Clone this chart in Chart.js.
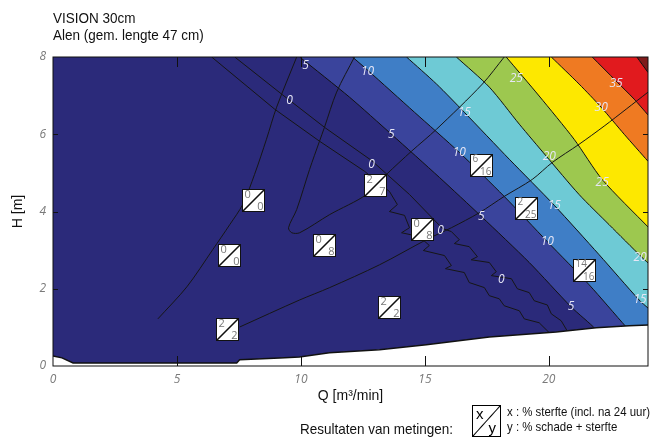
<!DOCTYPE html>
<html>
<head>
  <title>VISION 30cm - Alen</title>
  <style>
    body { margin: 0; background: #fff; }
    #wrap { position: relative; width: 653px; height: 442px; font-family: "Liberation Sans", Arial, sans-serif; }
    #canvas { position: absolute; left: 0; top: 0; }
    .txt { position: absolute; white-space: nowrap; color: #111; transform-origin: 0 0; }
    #title { left: 53px; top: 9px; font-size: 15px; line-height: 17px; transform: scaleX(0.9); }
    #res { left: 300px; top: 420px; font-size: 15px; transform: scaleX(0.9); }
    #key { position: absolute; left: 472px; top: 405px; width: 27px; height: 30px; border: 1px solid #000;
           background: linear-gradient(to bottom right, transparent calc(50% - 1px), #000 50%, transparent calc(50% + 1px)); }
    #key span { position: absolute; font-size: 15px; line-height: 15px; }
    #expl { left: 507px; top: 404px; font-size: 13px; line-height: 15px; transform: scaleX(0.88); }
  </style>
</head>
<body>
  <div id="wrap">
    <canvas id="canvas" width="653" height="442"></canvas>
    <div class="txt" id="title">VISION 30cm<br>Alen (gem. lengte 47 cm)</div>
    <div class="txt" id="res">Resultaten van metingen:</div>
    <div id="key"><span style="left:3px;top:0px">x</span><span style="right:4px;bottom:1px">y</span></div>
    <div class="txt" id="expl">x : % sterfte (incl. na 24 uur)<br>y : % schade + sterfte</div>
  </div>
  <script src="https://cdn.jsdelivr.net/npm/chart.js"></script>
  <script>
    // axis ticks
    const qTicks = [0, 5, 10, 15, 20];
    const hTicks = [0, 2, 4, 6, 8];

    // lower edge of the computed field (below it: no data)
    const bottomEdge = [[0, 0.26], [0.36, 0.21], [0.81, 0.08], [7.41, 0.08], [7.53, 0.16], [9.14, 0.21], [9.94, 0.23],
      [11.15, 0.34], [13.17, 0.42], [15.06, 0.55], [17.6, 0.75], [20.3, 0.88], [21.91, 0.99], [23.24, 1.04], [24, 1.06]];

    // filled contours, % sterfte  [Q, H]
    const c5 = [[9.95, 8], [11.96, 6.96], [13.65, 6.0], [15.59, 4.88], [17.28, 3.87], [19.21, 2.68], [20.9, 1.53], [21.91, 0.94], [24, -0.6]];
    const c10 = [[12.08, 8], [12.69, 7.66], [14.58, 6.57], [16.39, 5.53], [18.2, 4.39], [19.94, 3.22], [21.63, 2.1], [23.12, 1.01], [24, 0.4]];
    const c15 = [[14.26, 8], [15.47, 7.3], [16.59, 6.57], [18.41, 5.35], [20.22, 4.16], [22.03, 2.88], [23.64, 1.71], [24, 1.5]];
    const c20 = [[16.27, 8], [17.6, 7.22], [18.81, 6.26], [19.9, 5.43], [21.22, 4.44], [22.43, 3.66], [23.76, 2.81], [24, 2.67]];
    const c25 = [[18.28, 8], [19.61, 6.99], [21.02, 5.87], [22.15, 4.83], [24, 3.6]];
    const c30 = [[20.1, 8], [21.22, 7.3], [22.11, 6.7], [23.04, 6.0], [24, 5.3]];
    const c35 = [[21.75, 8], [22.71, 7.38], [23.44, 6.91], [24, 6.5]];
    const c40 = [[23.55, 8], [24, 7.6]];
    const bandColors = ['#2b2a7a', '#3a449c', '#3f7ec6', '#6ecad5', '#9dc84f', '#fde800', '#ef7a22', '#e11a1e', '#7e1b1b'];

    // contour lines without fill (0-lines and the crossing family)
    const zeroA = [[6.4, 8], [8.94, 6.65], [10.75, 5.82], [12.57, 5.04], [13.37, 4.62], [13.57, 4.52], [13.89, 4.18], [13.57, 4.0],
      [14.18, 3.9], [14.38, 3.58], [14.06, 3.45], [14.78, 3.35], [15.18, 3.12], [14.94, 2.99], [15.79, 2.86], [16.07, 2.6],
      [15.83, 2.52], [16.59, 2.42], [16.79, 2.16], [17.4, 2.03], [17.6, 1.82], [18.0, 1.74], [18.2, 1.56], [18.81, 1.43],
      [19.01, 1.22], [19.61, 1.12], [20.02, 0.86]];
    const zeroB = [[7.33, 8], [9.22, 7.04], [10.95, 6.18], [12.85, 5.32], [14.38, 4.44], [15.71, 3.56], [16.07, 3.48], [16.39, 3.27],
      [16.19, 3.17], [16.79, 3.09], [17.12, 2.83], [16.87, 2.75], [17.6, 2.68], [17.88, 2.44], [17.68, 2.34], [18.49, 2.26],
      [18.73, 2.0], [19.21, 1.9], [19.41, 1.69], [19.94, 1.58], [20.1, 1.35], [20.5, 1.17], [20.74, 0.91]];
    const cross1 = [[4.23, 1.22], [5.4, 2.05], [6.44, 3.01], [7.13, 3.66], [7.65, 4.18], [8.13, 4.96], [8.61, 5.87], [9.02, 6.7], [9.83, 8]];
    const cross2 = [[12.16, 8], [11.44, 7.09], [10.95, 6.18], [10.75, 5.82], [10.35, 5.09], [9.83, 4.05], [9.5, 3.58], [9.63, 3.45],
      [9.95, 3.45], [11.16, 3.92], [12.65, 4.44], [13.45, 4.96], [14.46, 5.56], [15.47, 6.13], [17.32, 7.3], [18.2, 8]];
    const cross3 = [[7.53, 1.01], [9.95, 1.71], [11.16, 2.03], [13.17, 2.62], [15.06, 3.27], [16.07, 3.58], [17.2, 3.97], [18.2, 4.39],
      [19.33, 4.83], [20.14, 5.27], [21.22, 5.74], [22.23, 6.21], [23.12, 6.65], [24, 7.09]];

    // contour labels
    const labelText = ['5', '10', '0', '25', '35', '30', '15', '5', '10', '20', '0', '25', '15', '5', '10', '0', '0', '20', '5', '15'];
    const labelQ = [10.19, 12.69, 9.54, 18.69, 22.71, 22.11, 16.59, 13.65, 16.39, 20.02, 12.85, 22.15, 20.22, 17.28, 19.94, 15.63, 18.08, 23.68, 20.9, 23.68];
    const labelH = [7.79, 7.61, 6.86, 7.45, 7.32, 6.7, 6.57, 6.0, 5.53, 5.43, 5.22, 4.75, 4.16, 3.87, 3.22, 3.51, 2.23, 2.81, 1.53, 1.71];

    // measurements: x = % sterfte, y = % schade + sterfte
    const boxQ = [8.07, 7.09, 7.0, 10.95, 13.0, 14.9, 13.57, 17.28, 19.09, 21.43];
    const boxH = [4.31, 2.88, 0.97, 3.13, 4.68, 3.54, 1.53, 5.21, 4.09, 2.49];
    const boxDeath = [0, 0, 2, 0, 2, 0, 2, 6, 2, 14];
    const boxDamage = [0, 0, 2, 8, 7, 8, 2, 16, 25, 16];

    const pts = arr => arr.map(([q, h]) => ({ x: q, y: h }));

    function band(arr, color, order) {
      return { data: pts(arr), borderColor: '#111', borderWidth: 1, backgroundColor: color, fill: 'end',
               pointRadius: 0, tension: 0.25, order: order };
    }
    function line(arr, tension) {
      return { data: pts(arr), borderColor: '#161616', borderWidth: 1, fill: false, pointRadius: 0, tension: tension, order: 20 };
    }

    const datasets = [
      { data: pts(bottomEdge), borderWidth: 0, backgroundColor: bandColors[0], fill: 'end', pointRadius: 0, order: 100 },
      band(c5, bandColors[1], 95),
      band(c10, bandColors[2], 90),
      band(c15, bandColors[3], 85),
      band(c20, bandColors[4], 80),
      band(c25, bandColors[5], 75),
      band(c30, bandColors[6], 70),
      band(c35, bandColors[7], 65),
      band(c40, bandColors[8], 60),
      line(zeroA, 0), line(zeroB, 0),
      line(cross1, 0.3), line(cross2, 0.3), line(cross3, 0.3),
      { data: pts(bottomEdge), borderColor: '#111', borderWidth: 1.5, backgroundColor: '#ffffff', fill: 'start', pointRadius: 0, order: 5 }
    ];

    const overlay = {
      id: 'overlay',
      afterDatasetsDraw(chart) {
        const { ctx, chartArea: a, scales: { x, y } } = chart;
        ctx.save();
        // labels on the contour lines
        ctx.font = 'italic 12px "Open Sans"';
        ctx.fillStyle = '#e6e6f6';
        ctx.textAlign = 'center';
        ctx.textBaseline = 'middle';
        labelText.forEach((t, i) => ctx.fillText(t, x.getPixelForValue(labelQ[i]), y.getPixelForValue(labelH[i])));

        // measurement boxes
        boxQ.forEach((q, i) => {
          const s = 22;
          const l = Math.round(x.getPixelForValue(q) - s / 2) + 0.5;
          const t = Math.round(y.getPixelForValue(boxH[i]) - s / 2) + 0.5;
          ctx.fillStyle = '#fff';
          ctx.fillRect(l, t, s, s);
          ctx.strokeStyle = '#111';
          ctx.lineWidth = 1;
          ctx.strokeRect(l, t, s, s);
          ctx.lineWidth = 1.6;
          ctx.beginPath();
          ctx.moveTo(l, t + s);
          ctx.lineTo(l + s, t);
          ctx.stroke();
          ctx.fillStyle = '#777';
          const a2 = boxDeath[i] > 9 || boxDamage[i] > 9;
          ctx.font = (a2 ? '10px' : '11px') + ' "Open Sans"';
          ctx.textAlign = 'left';
          ctx.textBaseline = 'top';
          ctx.fillText(String(boxDeath[i]), l + 2, t);
          ctx.textAlign = 'right';
          ctx.textBaseline = 'bottom';
          ctx.fillText(String(boxDamage[i]), l + s - 1, t + s + 1);
        });

        // box frame with inward ticks
        ctx.strokeStyle = '#111';
        ctx.lineWidth = 1;
        ctx.strokeRect(a.left, a.top, a.right - a.left, a.bottom - a.top);
        ctx.beginPath();
        qTicks.slice(1).forEach(v => {
          const px = Math.round(x.getPixelForValue(v)) + 0.5;
          ctx.moveTo(px, a.bottom); ctx.lineTo(px, a.bottom - 10);
          ctx.moveTo(px, a.top); ctx.lineTo(px, a.top + 10);
        });
        hTicks.slice(1, -1).forEach(v => {
          const py = Math.round(y.getPixelForValue(v)) + 0.5;
          ctx.moveTo(a.left, py); ctx.lineTo(a.left + 5, py);
          ctx.moveTo(a.right, py); ctx.lineTo(a.right - 5, py);
        });
        ctx.stroke();
        ctx.restore();
      }
    };

    const tickFont = { family: '"Open Sans"', style: 'italic', size: 12 };
    const titleFont = { family: '"Liberation Sans", Arial, sans-serif', size: 14 };

    const chart = new Chart(document.getElementById('canvas'), {
      type: 'line',
      data: { datasets: datasets },
      options: {
        responsive: false,
        animation: false,
        events: [],
        layout: { padding: { left: 4, right: 5, top: 57, bottom: 36 } },
        plugins: { legend: { display: false }, tooltip: { enabled: false } },
        scales: {
          x: {
            type: 'linear', min: 0, max: 24,
            afterBuildTicks: s => { s.ticks = qTicks.map(v => ({ value: v })); },
            afterFit: s => { s.height = 40; },
            grid: { display: false, drawTicks: false },
            border: { display: false },
            ticks: { font: tickFont, color: '#7a7a7a', padding: 6, maxRotation: 0 },
            title: { display: true, text: 'Q [m³/min]', font: titleFont, color: '#111', padding: { top: 0, bottom: 1 } }
          },
          y: {
            type: 'linear', min: 0, max: 8,
            afterBuildTicks: s => { s.ticks = hTicks.map(v => ({ value: v })); },
            afterFit: s => { s.width = 49; },
            grid: { display: false, drawTicks: false },
            border: { display: false },
            ticks: { font: tickFont, color: '#7a7a7a', padding: 7 },
            title: { display: true, text: 'H [m]', font: titleFont, color: '#111', padding: { top: 6, bottom: 0 } }
          }
        }
      },
      plugins: [overlay]
    });
  </script>
</body>
</html>
